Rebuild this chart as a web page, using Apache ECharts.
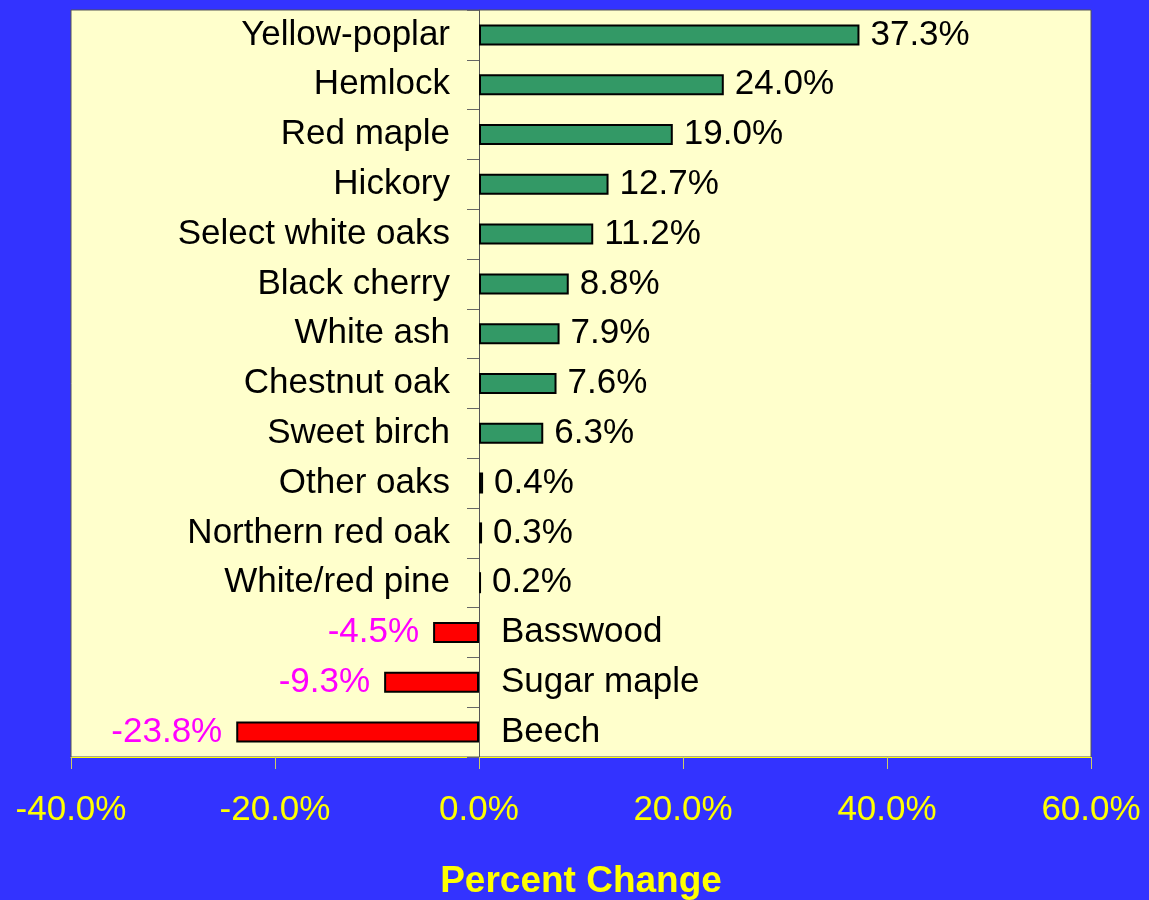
<!DOCTYPE html>
<html>
<head>
<meta charset="utf-8">
<script src="https://cdn.jsdelivr.net/npm/echarts@6/dist/echarts.min.js"></script>
<style>
html, body { margin: 0; padding: 0; background: #3333FF; }
#chart { width: 1149px; height: 900px; }
</style>
</head>
<body>
<div id="chart"></div>
<script>
// species, top to bottom
var species = ['Yellow-poplar', 'Hemlock', 'Red maple', 'Hickory', 'Select white oaks',
    'Black cherry', 'White ash', 'Chestnut oak', 'Sweet birch', 'Other oaks',
    'Northern red oak', 'White/red pine', 'Basswood', 'Sugar maple', 'Beech'];
// percent change
var change = [37.3, 24.0, 19.0, 12.7, 11.2, 8.8, 7.9, 7.6, 6.3, 0.4, 0.3, 0.2, -4.5, -9.3, -23.8];
var xTicks = [-40, -20, 0, 20, 40, 60];

var font = 'Liberation Sans, Arial, sans-serif';

// bars: green for gains, red for losses
var barData = change.map(function (v) {
    return {
        value: v,
        itemStyle: { color: v >= 0 ? '#339966' : '#FF0000' },
        label: {
            position: v >= 0 ? 'right' : 'left',
            distance: v >= 0 ? 11 : 14,
            color: v >= 0 ? '#000000' : '#FF00FF'
        }
    };
});

// zero-width helper bars that only carry the species names
var nameData = change.map(function (v) {
    return {
        value: 0,
        label: {
            position: v >= 0 ? 'left' : 'right',
            distance: v >= 0 ? 29 : 22
        }
    };
});

var myChart = echarts.init(document.getElementById('chart'));
var option = {
    backgroundColor: '#3333FF',
    animation: false,
    grid: {
        left: 71, right: 58, top: 10, bottom: 143,
        outerBoundsMode: 'none',
        containLabel: false,
        show: true,
        backgroundColor: '#FFFFCC',
        borderColor: '#555555',
        borderWidth: 1
    },
    xAxis: {
        type: 'value',
        min: xTicks[0],
        max: xTicks[xTicks.length - 1],
        interval: 20,
        splitLine: { show: false },
        axisLine: { show: true, onZero: false, lineStyle: { color: '#FFFF00', width: 1 } },
        axisTick: { show: true, length: 12, lineStyle: { color: '#CCCC66' } },
        axisLabel: {
            color: '#FFFF00', fontSize: 35, fontFamily: font, margin: 36,
            formatter: function (v) { return v.toFixed(1) + '%'; }
        },
        name: 'Percent Change',
        nameLocation: 'middle',
        nameGap: 106,
        nameTextStyle: { color: '#FFFF00', fontSize: 37, fontWeight: 'bold', fontFamily: font }
    },
    yAxis: {
        type: 'category',
        inverse: true,
        data: species,
        axisLine: { show: true, onZero: true, lineStyle: { color: '#555555' } },
        axisTick: { show: true, inside: false, length: 12, lineStyle: { color: '#666666' } },
        axisLabel: { show: false },
        splitLine: { show: false }
    },
    series: [{
        type: 'bar',
        data: barData,
        barWidth: 21,
        barGap: '-100%',
        itemStyle: { borderColor: '#000000', borderWidth: 2 },
        label: {
            show: true, fontSize: 35, fontFamily: font,
            formatter: function (p) { return p.value.toFixed(1) + '%'; }
        },
        z: 3
    }, {
        type: 'bar',
        data: nameData,
        barWidth: 21,
        barGap: '-100%',
        itemStyle: { color: 'rgba(0,0,0,0)', borderWidth: 0 },
        label: {
            show: true, fontSize: 35, fontFamily: font, color: '#000000',
            formatter: function (p) { return p.name; }
        },
        z: 4
    }]
};
myChart.setOption(option);
</script>
</body>
</html>
